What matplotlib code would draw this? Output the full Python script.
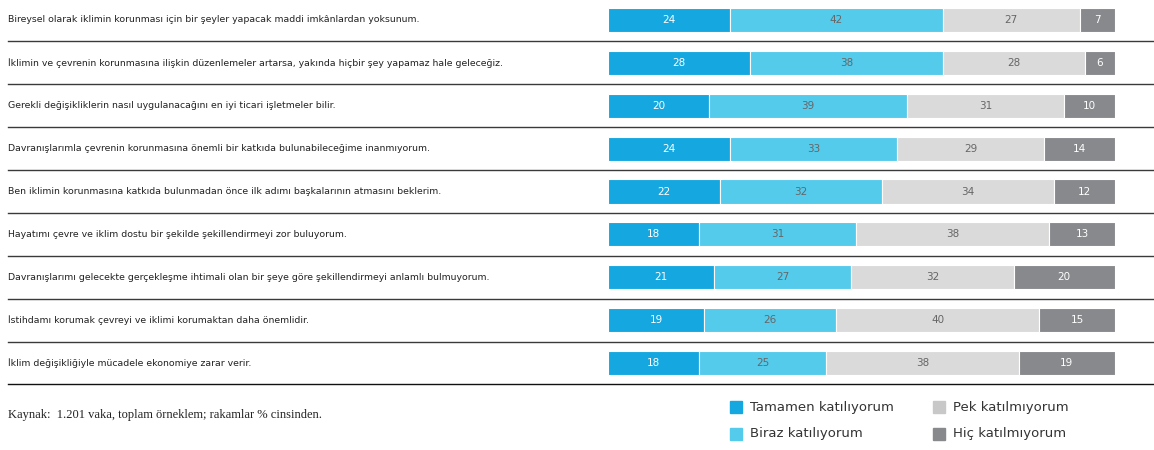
import matplotlib
matplotlib.use("Agg")
import matplotlib.pyplot as plt
from matplotlib.lines import Line2D
from matplotlib.patches import Rectangle
import matplotlib.transforms as mtransforms

statements = [
    "Bireysel olarak iklimin korunması için bir şeyler yapacak maddi imkânlardan yoksunum.",
    "İklimin ve çevrenin korunmasına ilişkin düzenlemeler artarsa, yakında hiçbir şey yapamaz hale geleceğiz.",
    "Gerekli değişikliklerin nasıl uygulanacağını en iyi ticari işletmeler bilir.",
    "Davranışlarımla çevrenin korunmasına önemli bir katkıda bulunabileceğime inanmıyorum.",
    "Ben iklimin korunmasına katkıda bulunmadan önce ilk adımı başkalarının atmasını beklerim.",
    "Hayatımı çevre ve iklim dostu bir şekilde şekillendirmeyi zor buluyorum.",
    "Davranışlarımı gelecekte gerçekleşme ihtimali olan bir şeye göre şekillendirmeyi anlamlı bulmuyorum.",
    "İstihdamı korumak çevreyi ve iklimi korumaktan daha önemlidir.",
    "İklim değişikliğiyle mücadele ekonomiye zarar verir.",
]
tamamen = [24, 28, 20, 24, 22, 18, 21, 19, 18]
biraz = [42, 38, 39, 33, 32, 31, 27, 26, 25]
pek = [27, 28, 31, 29, 34, 38, 32, 40, 38]
hic = [7, 6, 10, 14, 12, 13, 20, 15, 19]
series_names = ["Tamamen katılıyorum", "Biraz katılıyorum", "Pek katılmıyorum", "Hiç katılmıyorum"]
source_note = "Kaynak:  1.201 vaka, toplam örneklem; rakamlar % cinsinden."

colors = ["#14A7E0", "#55CBEC", "#DADADA", "#87898C"]
legend_colors = ["#14A7E0", "#55CBEC", "#C8C8C8", "#87898C"]
text_colors = ["white", "#666666", "#666666", "white"]

W, H = 1154, 450
fig = plt.figure(figsize=(W / 100, H / 100), dpi=100)

row_h = 42.9
top_edge = -20 / row_h
bot_edge = 8 + 22 / row_h
ax = fig.add_axes([608 / W, (H - 385) / H, 507 / W, 385 / H])
ax.set_xlim(0, 100)
ax.set_ylim(bot_edge, top_edge)
ax.axis("off")

series = [tamamen, biraz, pek, hic]
n = len(statements)
ys = list(range(n))
left = [0] * n
for s, vals in enumerate(series):
    ax.barh(ys, vals, left=left, height=0.56, color=colors[s],
            edgecolor="white", linewidth=0.8)
    for i, v in enumerate(vals):
        ax.text(left[i] + v / 2, ys[i], str(v), ha="center", va="center",
                fontsize=7.5, color=text_colors[s], family="DejaVu Sans")
    left = [a + b for a, b in zip(left, vals)]

trans = mtransforms.blended_transform_factory(fig.transFigure, ax.transData)
for i, st in enumerate(statements):
    ax.text(8 / W, ys[i], st, transform=trans, ha="left", va="center",
            fontsize=6.75, color="#222222", family="DejaVu Sans")
    ax.add_line(Line2D([8 / W, 1.0], [i + 0.5, i + 0.5], transform=trans,
                       color="#3a3a3a" if i < n - 1 else "#111111",
                       linewidth=1.0, clip_on=False))

fig.text(8 / W, (H - 415) / H, source_note, ha="left", va="center",
         fontsize=9, family="Liberation Serif", color="#222222")

# legend
leg_pos = [(730, 407), (730, 434), (933, 407), (933, 434)]
for (lx, ly), name, c in zip(leg_pos, series_names, legend_colors):
    fig.patches.append(Rectangle((lx / W, (H - ly - 6) / H), 12 / W, 12 / H,
                                 transform=fig.transFigure, color=c))
    fig.text((lx + 20) / W, (H - ly) / H, name, ha="left", va="center",
             fontsize=9.5, color="#333333", family="DejaVu Sans")

fig.savefig("out.png", dpi=100)
